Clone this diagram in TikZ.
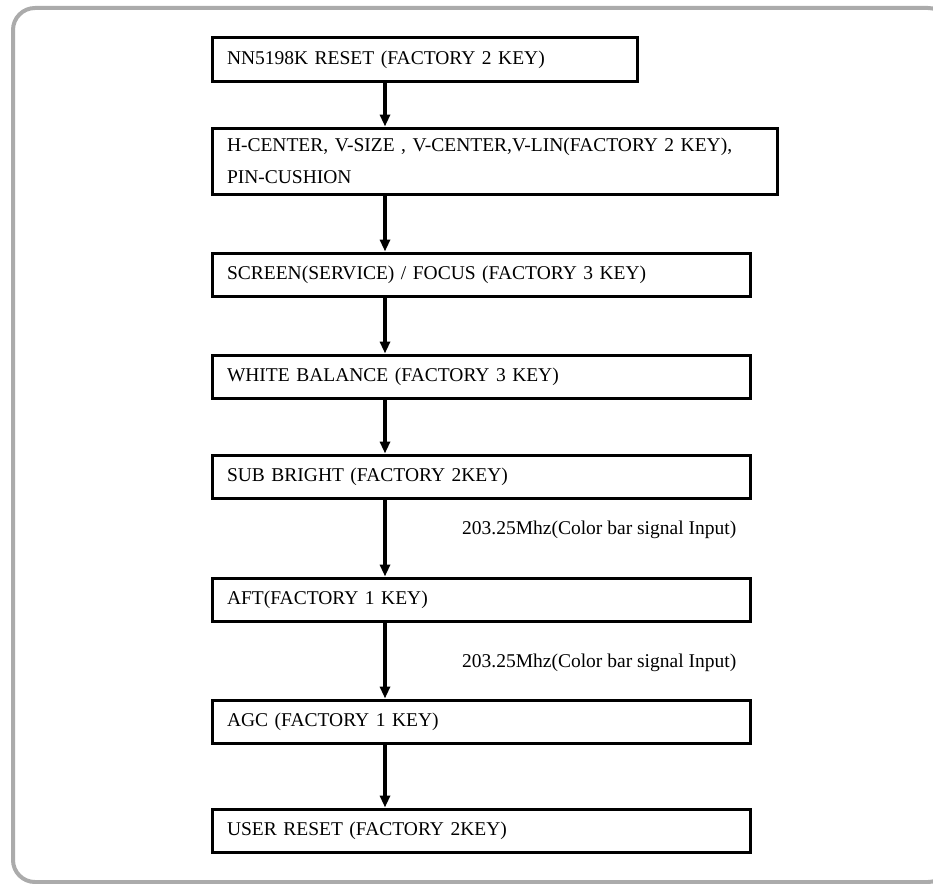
\documentclass[tikz,border=0pt]{standalone}
\usepackage{fontspec}
\setmainfont{Liberation Serif}
\usepackage{tikz}
\usetikzlibrary{arrows.meta}
\newcommand{\steptextsize}{\fontsize{19.5pt}{32pt}\selectfont}
\tikzstyle{stepbox}=[draw, line width=3pt, anchor=north west, inner xsep=15pt, inner ysep=0pt,
                     align=left, font=\steptextsize, text width=508pt, minimum height=43pt]
\tikzstyle{flow}=[line width=3.5pt, -{Triangle[length=12pt,width=10pt]}]
\tikzstyle{signal}=[anchor=west, inner sep=0, font=\steptextsize]
\tikzstyle{frame}=[draw=black!33, line width=4pt, rounded corners=22pt]
\begin{document}
\begin{tikzpicture}[x=1pt, y=-1pt]
        \useasboundingbox (0,0) rectangle (933,883);
        \draw[frame] (13,8) rectangle (950,882);
        % steps
        \node[stepbox, text width=395pt] (reset) at (210.5,36.5) {NN5198K RESET (FACTORY 2 KEY)};
        \node[stepbox, text width=535pt, minimum height=66pt] (geom) at (210.5,126.5)
            {H-CENTER, V-SIZE , V-CENTER,V-LIN(FACTORY 2 KEY),\\PIN-CUSHION};
        \node[stepbox] (focus) at (210.5,251.5) {SCREEN(SERVICE) / FOCUS (FACTORY 3 KEY)};
        \node[stepbox] (white) at (210.5,353.5) {WHITE BALANCE (FACTORY 3 KEY)};
        \node[stepbox] (bright) at (210.5,453.5) {SUB BRIGHT (FACTORY 2KEY)};
        \node[stepbox] (aft) at (210.5,576.5) {AFT(FACTORY 1 KEY)};
        \node[stepbox] (agc) at (210.5,698.5) {AGC (FACTORY 1 KEY)};
        \node[stepbox] (user) at (210.5,807.5) {USER RESET (FACTORY 2KEY)};
        \node[signal] (sig1) at (462,530) {203.25Mhz(Color bar signal Input)};
        \node[signal] (sig2) at (462,663) {203.25Mhz(Color bar signal Input)};
        % arrows
        \coordinate (axis) at (385,0);
        \draw[flow] (reset.south -| axis) -- (geom.north -| axis);
        \draw[flow] (geom.south -| axis) -- (focus.north -| axis);
        \draw[flow] (focus.south -| axis) -- (white.north -| axis);
        \draw[flow] (white.south -| axis) -- (bright.north -| axis);
        \draw[flow] (bright.south -| axis) -- (aft.north -| axis);
        \draw[flow] (aft.south -| axis) -- (agc.north -| axis);
        \draw[flow] (agc.south -| axis) -- (user.north -| axis);
    \end{tikzpicture}
\end{document}
